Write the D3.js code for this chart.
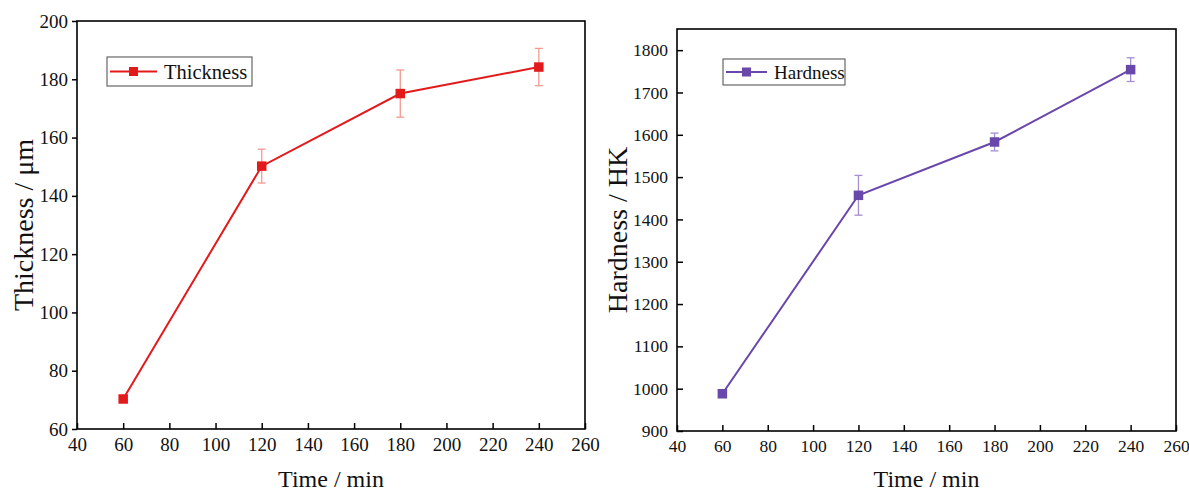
<!DOCTYPE html>
<html>
<head>
<meta charset="utf-8">
<script src="https://cdn.jsdelivr.net/npm/d3@7"></script>
<style>
  html, body { margin: 0; padding: 0; background: #fff; }
  svg { display: block; }
  text { font-family: "Liberation Serif", "Times New Roman", serif; fill: #111; }
</style>
</head>
<body>
<svg id="chart" width="1189" height="493"></svg>
<script>
// ---- data ----
const times = [60, 120, 180, 240];
const thickness = [70.3, 150.2, 175.1, 184.2];
const thicknessErr = [0.8, 5.8, 8.1, 6.4];
const hardness = [988, 1457, 1583, 1754];
const hardnessErr = [6, 47, 21, 28];
const xTicks = [40, 60, 80, 100, 120, 140, 160, 180, 200, 220, 240, 260];
const thicknessTicks = [60, 80, 100, 120, 140, 160, 180, 200];
const hardnessTicks = [900, 1000, 1100, 1200, 1300, 1400, 1500, 1600, 1700, 1800];

const svg = d3.select("#chart");
const SERIF = '"Liberation Serif", "Times New Roman", serif';

function styleAxis(sel, size) {
  sel.attr("font-family", null).attr("font-size", null);
  sel.select(".domain").remove();
  sel.selectAll("line").attr("stroke", "#000").attr("stroke-width", 1.5);
  sel.selectAll("text")
    .attr("fill", "#111")
    .style("font-family", SERIF)
    .style("font-size", size + "px");
}

function panel(cfg) {
  const x = d3.scaleLinear().domain([40, 260]).range([cfg.left, cfg.right]);
  const y = d3.scaleLinear().domain(cfg.yDomain).range([cfg.bottom, cfg.top]);
  const g = svg.append("g");

  // x axis (ticks inward)
  const xa = g.append("g").attr("transform", `translate(0,${cfg.bottom})`)
    .call(d3.axisBottom(x).tickValues(xTicks).tickFormat(d3.format("d"))
      .tickSize(-6).tickSizeOuter(0).tickPadding(9));
  styleAxis(xa, cfg.tickFont);

  // y axis
  const ya = g.append("g").attr("transform", `translate(${cfg.left},0)`)
    .call(d3.axisLeft(y).tickValues(cfg.yTicks).tickFormat(d3.format("d"))
      .tickSize(cfg.yTickSize).tickSizeOuter(0).tickPadding(cfg.yPad));
  styleAxis(ya, cfg.tickFont);

  // frame
  g.append("rect")
    .attr("x", cfg.left).attr("y", cfg.top)
    .attr("width", cfg.right - cfg.left).attr("height", cfg.bottom - cfg.top)
    .attr("fill", "none").attr("stroke", "#000").attr("stroke-width", 1.6);

  // error bars
  const cap = 4;
  const eb = g.append("g").attr("stroke", cfg.errColor).attr("stroke-width", 1.3);
  times.forEach((t, i) => {
    const v = cfg.values[i], e = cfg.errs[i];
    const cx = x(t);
    eb.append("line").attr("x1", cx).attr("x2", cx).attr("y1", y(v + e)).attr("y2", y(v - e));
    eb.append("line").attr("x1", cx - cap).attr("x2", cx + cap).attr("y1", y(v + e)).attr("y2", y(v + e));
    eb.append("line").attr("x1", cx - cap).attr("x2", cx + cap).attr("y1", y(v - e)).attr("y2", y(v - e));
  });

  // line
  const line = d3.line().x((d, i) => x(times[i])).y(d => y(d));
  g.append("path").datum(cfg.values)
    .attr("d", line).attr("fill", "none")
    .attr("stroke", cfg.color).attr("stroke-width", 2);

  // markers
  const ms = 9.5;
  g.selectAll("rect.pt").data(cfg.values).enter().append("rect")
    .attr("class", "pt")
    .attr("x", (d, i) => x(times[i]) - ms / 2)
    .attr("y", d => y(d) - ms / 2)
    .attr("width", ms).attr("height", ms)
    .attr("fill", cfg.color);

  // legend
  const L = cfg.legend;
  g.append("rect").attr("x", L.x).attr("y", L.y).attr("width", L.w).attr("height", L.h)
    .attr("fill", "#fff").attr("stroke", "#666").attr("stroke-width", 1.2);
  const ly = L.y + L.h / 2;
  g.append("line").attr("x1", L.x + 3).attr("x2", L.x + L.lineW)
    .attr("y1", ly).attr("y2", ly).attr("stroke", cfg.color).attr("stroke-width", 2);
  g.append("rect").attr("x", L.x + 3 + (L.lineW - 3) / 2 - 4.5).attr("y", ly - 4.5)
    .attr("width", 9).attr("height", 9).attr("fill", cfg.color);
  g.append("text").attr("x", L.x + L.lineW + 7).attr("y", ly).attr("dy", "0.35em")
    .style("font-size", L.font + "px").text(cfg.name);

  // titles
  g.append("text")
    .attr("x", (cfg.left + cfg.right) / 2).attr("y", 487)
    .attr("text-anchor", "middle").style("font-size", "24px").text("Time / min");
  g.append("text")
    .attr("transform", `translate(${cfg.yTitleX},${(cfg.top + cfg.bottom) / 2}) rotate(-90)`)
    .attr("text-anchor", "middle").style("font-size", "28px").text(cfg.yTitle);
}

panel({
  left: 77, right: 585, top: 21, bottom: 429,
  yDomain: [60, 200], yTicks: thicknessTicks, yTickSize: 5, yPad: 4,
  values: thickness, errs: thicknessErr,
  color: "#e31a1c", errColor: "#f59a8f",
  tickFont: 19, name: "Thickness",
  legend: { x: 107, y: 57, w: 145, h: 29, lineW: 50, font: 20.5 },
  yTitle: "Thickness / \u03bcm", yTitleX: 33
});

panel({
  left: 677, right: 1176, top: 29, bottom: 431,
  yDomain: [900, 1850], yTicks: hardnessTicks, yTickSize: -6, yPad: 9,
  values: hardness, errs: hardnessErr,
  color: "#6a47aa", errColor: "#a48fd2",
  tickFont: 17.5, name: "Hardness",
  legend: { x: 723, y: 59, w: 122, h: 26, lineW: 44, font: 19 },
  yTitle: "Hardness / HK", yTitleX: 627
});
</script>
</body>
</html>
